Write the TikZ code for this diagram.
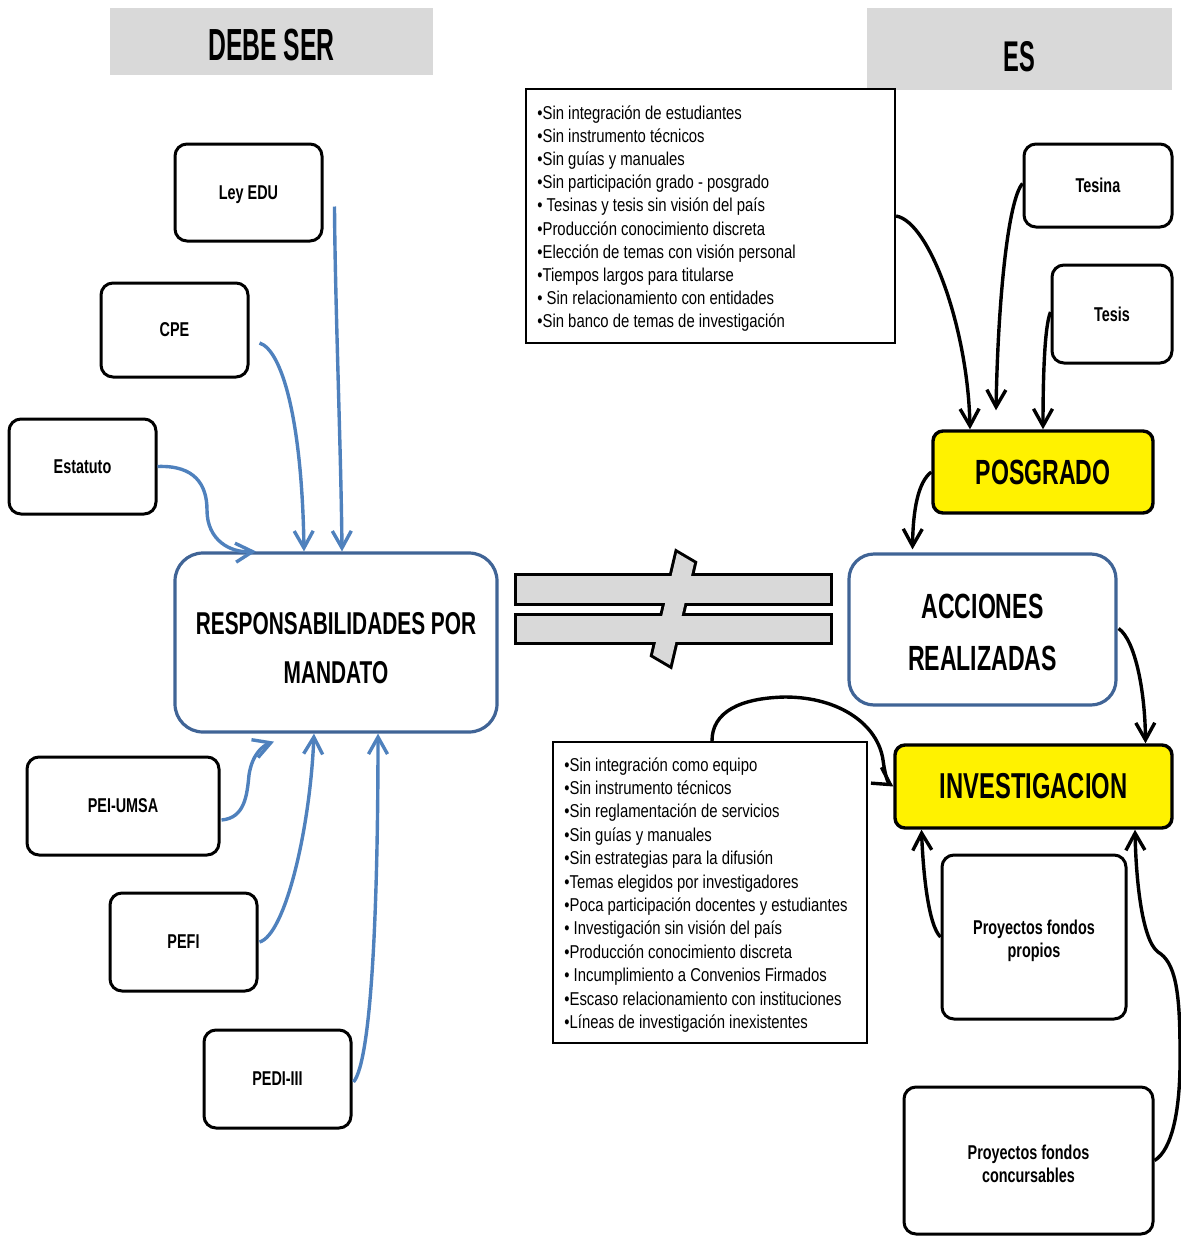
\documentclass[tikz,border=0pt]{standalone}
\usepackage{fontspec}
\setmainfont{Liberation Sans}
\newfontfamily\hdf[FakeStretch=0.55]{Liberation Sans}
\newfontfamily\ttf[FakeStretch=0.66]{Liberation Sans}
\newfontfamily\lbf[FakeStretch=0.72]{Liberation Sans}
\newfontfamily\lsf[FakeStretch=0.8]{Liberation Sans}
\usetikzlibrary{arrows.meta,calc}
\definecolor{hdgray}{HTML}{D9D9D9}
\definecolor{bdblue}{RGB}{64,100,150}
\definecolor{arblue}{HTML}{4F81BD}
\begin{document}
\begin{tikzpicture}[x=0.5pt,y=-0.5pt,
 hdbox/.style={fill=hdgray, draw=none, inner sep=0pt, font=\hdf\bfseries\fontsize{22.5}{26}\selectfont},
 srcbox/.style={draw=black, line width=1.5pt, rounded corners=6pt, fill=white, inner sep=0pt, align=center, font=\lbf\bfseries\fontsize{10}{11.5}\selectfont},
 mainbox/.style={draw=bdblue, line width=1.6pt, rounded corners=13pt, fill=white, inner sep=0pt, align=center, font=\ttf\bfseries},
 yelbox/.style={draw=black, line width=1.7pt, rounded corners=5pt, fill=yellow, inner sep=0pt, font=\ttf\bfseries\fontsize{17.5}{20}\selectfont},
 lstbox/.style={draw=black, line width=1.1pt, fill=white, inner sep=0pt},
 lsttext/.style={anchor=base west, inner sep=0pt, font=\lsf\fontsize{9.3}{11.6}\selectfont},
 barr/.style={draw=arblue, line width=1.7pt, -{Straight Barb[length=8.5pt,width=9.5pt]}},
 karr/.style={draw=black, line width=1.7pt, -{Straight Barb[length=8.5pt,width=9.5pt]}},
]
\useasboundingbox (0,0) rectangle (1181,1237);

% headers
\node[hdbox, minimum width=161.5pt, minimum height=33.5pt, text height=19.5pt] (debe) at (271.5,41.5) {DEBE SER};
\node[hdbox, minimum width=152.5pt, minimum height=41pt, font=\hdf\bfseries\fontsize{21.5}{25}\selectfont, text height=23pt] (es) at (1019.5,49) {ES};

% left sources
\node[srcbox, minimum width=73.5pt, minimum height=48.5pt, text depth=0pt] (ley) at (248.5,192.5) {Ley EDU};
\node[srcbox, minimum width=73.5pt, minimum height=47pt, text depth=0pt] (cpe) at (174.5,330) {CPE};
\node[srcbox, minimum width=73.5pt, minimum height=47.5pt, text depth=0pt] (est) at (82.5,466.5) {Estatuto};
\node[srcbox, minimum width=96pt, minimum height=49pt, text depth=0pt] (pei) at (123,806) {PEI-UMSA};
\node[srcbox, minimum width=73.5pt, minimum height=49pt, text depth=0pt] (pefi) at (183.5,942) {PEFI};
\node[srcbox, minimum width=73.5pt, minimum height=49pt, text depth=0pt] (pedi) at (277.5,1079) {PEDI-III};

% main boxes
\node[mainbox, rounded corners=14pt, minimum width=161pt, minimum height=89.5pt, font=\ttf\bfseries\fontsize{15.8}{24.5}\selectfont] (resp) at (336,642.5) {\rule{0pt}{16.3pt}RESPONSABILIDADES POR\\MANDATO};
\node[mainbox, rounded corners=12.5pt, minimum width=133.5pt, minimum height=75.5pt, font=\ttf\bfseries\fontsize{17.5}{26}\selectfont] (acc) at (982.5,629.5) {\rule{0pt}{15.5pt}ACCIONES\\REALIZADAS};

% right side
\node[yelbox, minimum width=110pt, minimum height=41pt] (pos) at (1043,472) {POSGRADO};
\node[yelbox, minimum width=138.5pt, minimum height=41.5pt, font=\ttf\bfseries\fontsize{18}{20}\selectfont] (inv) at (1033.5,786.5) {INVESTIGACION};
\node[srcbox, minimum width=74pt, minimum height=41.5pt, text depth=0pt] (tesina) at (1098,185.5) {Tesina};
\node[srcbox, minimum width=60pt, minimum height=49pt, text depth=0pt] (tesis) at (1112,314) {Tesis};
\node[srcbox, minimum width=92pt, minimum height=82pt] (fp) at (1034,937) {\rule{0pt}{11.5pt}Proyectos fondos\\propios};
\node[srcbox, minimum width=124.5pt, minimum height=73.5pt] (fc) at (1028.5,1160.5) {\rule{0pt}{11pt}Proyectos fondos\\concursables};

% list boxes
\node[lstbox, minimum width=184.5pt, minimum height=127pt] (lsta) at (710.5,216) {};
\foreach \t [count=\i from 0] in {{•Sin integración  de estudiantes},{•Sin instrumento técnicos},{•Sin guías y manuales},{•Sin participación grado - posgrado},{• Tesinas y tesis sin visión del país},{•Producción conocimiento discreta},{•Elección  de temas con visión personal},{•Tiempos largos para titularse},{• Sin relacionamiento con entidades},{•Sin banco de temas de investigación}}
  \node[lsttext] (la\i) at (537,119+23.2*\i) {\t};

\node[lstbox, minimum width=157pt, minimum height=150.5pt] (lstb) at (710,892.5) {};
\foreach \t [count=\i from 0] in {{•Sin integración  como equipo},{•Sin instrumento técnicos},{•Sin reglamentación de servicios},{•Sin guías y manuales},{•Sin estrategias para la difusión},{•Temas  elegidos por investigadores},{•Poca participación docentes y estudiantes},{• Investigación  sin visión del país},{•Producción conocimiento discreta},{• Incumplimiento a Convenios Firmados},{•Escaso relacionamiento con instituciones},{•Líneas de investigación inexistentes}}
  \node[lsttext] (lb\i) at (564,771+23.4*\i) {\t};

% not-equal symbol
\draw[line width=3pt] (517,576) rectangle (830,603);
\draw[line width=3pt] (517,616) rectangle (830,642);
\draw[line width=3pt] (677,553) -- (694,563) -- (670,665) -- (653,655) -- cycle;
\fill[hdgray] (517,576) rectangle (830,603);
\fill[hdgray] (517,616) rectangle (830,642);
\fill[hdgray] (677,553) -- (694,563) -- (670,665) -- (653,655) -- cycle;

% blue arrows
\draw[barr] ([xshift=5.5pt,yshift=-7pt]ley.east) .. controls (335,300) and (341,450) .. ([xshift=3pt]resp.north);
\draw[barr] ([xshift=5pt,yshift=-6.5pt]cpe.east) .. controls (282,350) and (302,420) .. ([xshift=-16pt]resp.north);
\draw[barr] (est.east) .. controls (195,465) and (207,485) .. (207,510) .. controls (207,540) and (230,553) .. ([xshift=-40pt]resp.north);
\draw[barr] ([xshift=0.5pt,yshift=-7pt]pei.east) .. controls (245,818) and (247,795) .. (249,775) .. controls (252,755) and (262,746) .. ([xshift=-31pt,yshift=-4pt]resp.south);
\draw[barr] ([xshift=0.5pt]pefi.east) .. controls (285,935) and (310,830) .. ([xshift=-11pt]resp.south);
\draw[barr] ([xshift=0.5pt,yshift=-1.5pt]pedi.east) .. controls (372,1060) and (378,900) .. ([xshift=21pt]resp.south);

% black arrows
\draw[karr] (lsta.east) .. controls (930,222) and (968,330) .. ([xshift=-36.5pt]pos.north);
\draw[karr] ([yshift=1pt]tesina.west) .. controls (1008,200) and (998,300) .. ([xshift=-23.5pt,yshift=9.5pt]pos.north);
\draw[karr] ([yshift=1pt]tesis.west) .. controls (1045,325) and (1043,370) .. ([xshift=0pt]pos.north);
\draw[karr] (pos.west) .. controls (918,482) and (913,510) .. ([xshift=-35pt,yshift=1.5pt]acc.north);
\draw[karr] ([xshift=0.5pt,yshift=0.5pt]acc.east) .. controls (1135,640) and (1145,690) .. ([xshift=56pt]inv.north);
\draw[karr] ([xshift=1pt]lstb.north) .. controls (712,712) and (740,698) .. (785,697) .. controls (840,697) and (878,725) .. (883,760) .. controls (885,775) and (888,783) .. (inv.west);
\draw[karr] (fp.west) .. controls (928,925) and (923,870) .. ([xshift=-56pt]inv.south);
\draw[karr] (fc.east) .. controls (1172,1150) and (1181,1110) .. (1180,1050) .. controls (1180,990) and (1175,962) .. (1158,952) .. controls (1142,940) and (1136,880) .. ([xshift=50.75pt]inv.south);
\end{tikzpicture}
\end{document}
